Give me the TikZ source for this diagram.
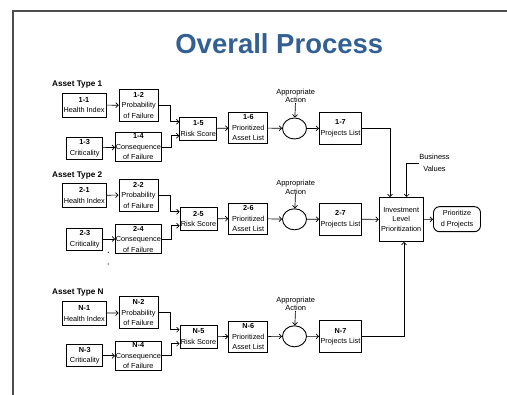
\documentclass[tikz,border=0pt]{standalone}
\usepackage{fontspec}
\setmainfont{Liberation Sans}
\usetikzlibrary{arrows.meta, shapes.geometric}
\definecolor{titleblue}{RGB}{50,96,148}

\begin{document}
\begin{tikzpicture}[x=1pt, y=-1pt,%
      block/.style={rectangle, draw, line width=0.9pt, align=center, inner xsep=0.3pt, inner ysep=0.5pt, font=\fontsize{7.3}{10.5}\selectfont},
      hi/.style={block, minimum width=44pt, minimum height=24pt},
      prob/.style={block, minimum width=39pt, minimum height=32pt},
      crit/.style={block, minimum width=36pt, minimum height=22pt},
      cons/.style={block, minimum width=45pt, minimum height=29pt},
      risk/.style={block, minimum width=37pt, minimum height=23pt},
      plist/.style={block, minimum width=39pt, minimum height=31pt},
      proj/.style={block, minimum width=42pt, minimum height=32pt},
      act/.style={draw, ellipse, line width=0.9pt, minimum width=24pt, minimum height=21pt, inner sep=0pt},
      note/.style={align=center, inner sep=0pt, font=\fontsize{7.5}{8.5}\selectfont},
      typelabel/.style={anchor=west, inner sep=0pt, font=\fontsize{8.2}{10}\bfseries},
      line/.style={draw, line width=0.7pt, -{Straight Barb[length=2.5pt, width=5pt]}}
      ]
    \useasboundingbox (0, 0) rectangle (507, 395);
    \draw [gray!60!black, line width=1.4pt] (13, 395) -- (13, 11) -- (507, 11);

    \node [font=\fontsize{27.5}{30}\bfseries, text=titleblue] (title) at (279.3, 43.3) {Overall Process};

    % asset type 1
    \node [typelabel] (t1) at (52, 85) {Asset Type 1};
    \node [hi] (a11) at (84, 105) {\textbf{1-1}\\Health Index};
    \node [prob] (a12) at (138.7, 105.3) {\textbf{1-2}\\Probability\\of Failure};
    \node [crit] (a13) at (84.7, 148) {\textbf{1-3}\\Criticality};
    \node [cons] (a14) at (138.3, 147) {\textbf{1-4}\\Consequence\\of Failure};
    \node [risk] (a15) at (198.3, 128.7) {\textbf{1-5}\\Risk Score};
    \node [plist] (a16) at (248.3, 127.8) {\textbf{1-6}\\Prioritized\\Asset List};
    \node [note] (n1) at (295.7, 96) {Appropriate\\Action};
    \node [act] (e1) at (294.5, 128.5) {};
    \node [proj] (a17) at (340.5, 128.3) {\textbf{1-7}\\Projects List};

    \path [line] (a11) -- (a12);
    \path [line] (a13) -- (a14);
    \path [line] (a12.east) -- ++(11.7, 0) |- ([yshift=7pt]a15.west);
    \path [line] (a14.east) -- ++(9.3, 0) |- ([yshift=-7pt]a15.west);
    \path [line] (a15) -- (a16);
    \path [line] (a16) -- (e1);
    \path [line] (n1) -- (e1);
    \path [line] (e1) -- (a17);

    % asset type 2
    \node [typelabel] (t2) at (52, 175) {Asset Type 2};
    \node [hi] (a21) at (84.3, 195.3) {\textbf{2-1}\\Health Index};
    \node [prob] (a22) at (138.5, 195) {\textbf{2-2}\\Probability\\of Failure};
    \node [crit] (a23) at (84.8, 239) {\textbf{2-3}\\Criticality};
    \node [cons] (a24) at (138.3, 239) {\textbf{2-4}\\Consequence\\of Failure};
    \node [risk] (a25) at (198.5, 218.8) {\textbf{2-5}\\Risk Score};
    \node [plist] (a26) at (248.3, 218.5) {\textbf{2-6}\\Prioritized\\Asset List};
    \node [note] (n2) at (295.7, 187.2) {Appropriate\\Action};
    \node [act] (e2) at (294.5, 219.3) {};
    \node [proj] (a27) at (340.5, 219.2) {\textbf{2-7}\\Projects List};

    \path [line] (a21) -- (a22);
    \path [line] (a23) -- (a24);
    \path [line] (a22.east) -- ++(11.5, 0) |- ([yshift=7pt]a25.west);
    \path [line] (a24.east) -- ++(9.3, 0) |- ([yshift=-7pt]a25.west);
    \path [line] (a25) -- (a26);
    \path [line] (a26) -- (e2);
    \path [line] (n2) -- (e2);
    \path [line] (e2) -- (a27);

    \fill (108.3, 252.3) circle (0.6);
    \fill (108.3, 264) circle (0.6);

    % asset type N
    \node [typelabel] (tn) at (52, 292.7) {Asset Type N};
    \node [hi] (an1) at (84.3, 313.3) {\textbf{N-1}\\Health Index};
    \node [prob] (an2) at (138.5, 312.8) {\textbf{N-2}\\Probability\\of Failure};
    \node [crit] (an3) at (84.8, 355.8) {\textbf{N-3}\\Criticality};
    \node [cons] (an4) at (138.3, 355.8) {\textbf{N-4}\\Consequence\\of Failure};
    \node [risk] (an5) at (198.5, 336.7) {\textbf{N-5}\\Risk Score};
    \node [plist] (an6) at (248.3, 336.5) {\textbf{N-6}\\Prioritized\\Asset List};
    \node [note] (nn) at (295.7, 303.8) {Appropriate\\Action};
    \node [act] (en) at (294.5, 336.3) {};
    \node [proj] (an7) at (340.5, 336.5) {\textbf{N-7}\\Projects List};

    \path [line] (an1) -- (an2);
    \path [line] (an3) -- (an4);
    \path [line] (an2.east) -- ++(11.5, 0) |- ([yshift=7pt]an5.west);
    \path [line] (an4.east) -- ++(9.3, 0) |- ([yshift=-7pt]an5.west);
    \path [line] (an5) -- (an6);
    \path [line] (an6) -- (en);
    \path [line] (nn) -- (en);
    \path [line] (en) -- (an7);

    % investment level
    \node [block, minimum width=44pt, minimum height=44pt, font=\fontsize{7.3}{9.5}\selectfont] (inv) at (401.2, 219.5) {Investment\\Level\\Prioritization};
    \node [block, rounded corners=6pt, minimum width=47pt, minimum height=25pt] (out) at (457, 219.2) {Prioritize\\d Projects};
    \node [note, font=\fontsize{7.5}{11.7}\selectfont] (bv) at (434.5, 163) {Business\\Values};

    \path [line] (a17.east) -| ([xshift=-11.2pt]inv.north);
    \path [line] (bv.west) -| ([xshift=5.5pt]inv.north);
    \path [line] (a27) -- (inv);
    \path [line] (an7.east) -| ([xshift=2.8pt]inv.south);
    \path [line] (inv) -- (out);
  \end{tikzpicture}
\end{document}
